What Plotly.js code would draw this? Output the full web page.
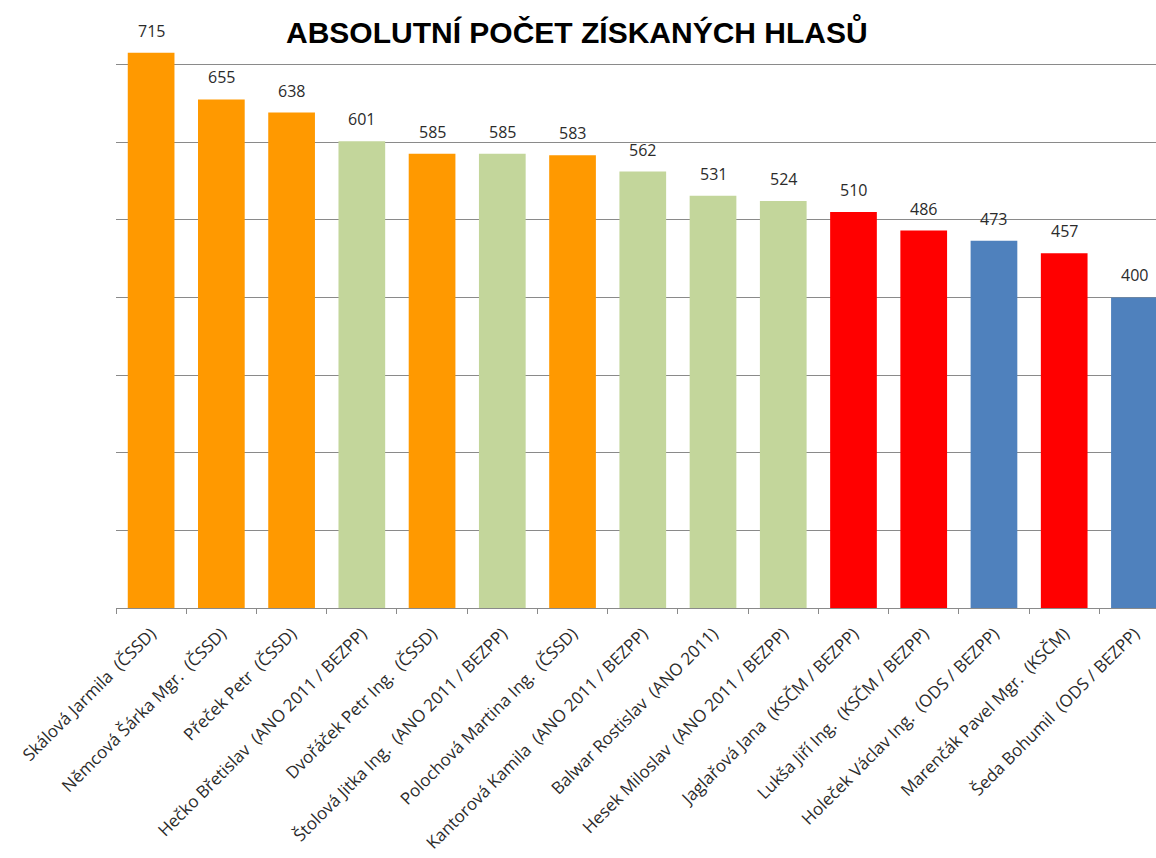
<!DOCTYPE html>
<html>
<head>
<meta charset="utf-8">
<script src="https://cdn.plot.ly/plotly-3.0.1.min.js"></script>
<style>
html,body{margin:0;padding:0;background:#fff;overflow:hidden;}
#chart{width:1156px;height:858px;}
</style>
</head>
<body>
<div id="chart"></div>
<script>
const categories = [
  "Skálová Jarmila \u00a0(ČSSD)",
  "Němcová Šárka Mgr. \u00a0(ČSSD)",
  "Přeček Petr \u00a0(ČSSD)",
  "Hečko Břetislav \u00a0(ANO 2011 / BEZPP)",
  "Dvořáček Petr Ing. \u00a0(ČSSD)",
  "Štolová Jitka Ing. \u00a0(ANO 2011 / BEZPP)",
  "Polochová Martina Ing. \u00a0(ČSSD)",
  "Kantorová Kamila \u00a0(ANO 2011 / BEZPP)",
  "Balwar Rostislav \u00a0(ANO 2011)",
  "Hesek Miloslav \u00a0(ANO 2011 / BEZPP)",
  "Jaglařová Jana \u00a0(KSČM / BEZPP)",
  "Lukša Jiří Ing. \u00a0(KSČM / BEZPP)",
  "Holeček Václav Ing. \u00a0(ODS / BEZPP)",
  "Marenčák Pavel Mgr. \u00a0(KSČM)",
  "Šeda Bohumil \u00a0(ODS / BEZPP)"
];
const votes = [715, 655, 638, 601, 585, 585, 583, 562, 531, 524, 510, 486, 473, 457, 400];
const parties = ["ČSSD","ČSSD","ČSSD","ANO","ČSSD","ANO","ČSSD","ANO","ANO","ANO","KSČM","KSČM","ODS","KSČM","ODS"];
const partyColors = {"ČSSD":"#FF9900","ANO":"#C3D69B","KSČM":"#FF0000","ODS":"#4F81BD"};
const titleText = "ABSOLUTNÍ POČET ZÍSKANÝCH HLASŮ";

const trace = {
  type: "bar",
  x: categories,
  y: votes,
  marker: {color: parties.map(p => partyColors[p])},
  hoverinfo: "x+y"
};

const annotations = categories.map((c, i) => ({
  x: c, y: votes[i], xref: "x", yref: "y",
  text: String(votes[i]), showarrow: false,
  yanchor: "bottom", yshift: 9,
  font: {family: "Open Sans, sans-serif", size: 16, color: "#2b2b2b"}
}));

const layout = {
  width: 1156, height: 858,
  margin: {l: 116, r: 0, t: 0, b: 250},
  paper_bgcolor: "#ffffff",
  plot_bgcolor: "#ffffff",
  bargap: 0.335,
  showlegend: false,
  title: {
    text: "<b>" + titleText + "</b>",
    xref: "container", yref: "container",
    x: 0.499, xanchor: "center",
    y: 1 - 32/858, yanchor: "middle",
    font: {family: "Liberation Sans, Arial, sans-serif", size: 30, color: "#000000"}
  },
  xaxis: {
    type: "category",
    range: [-0.5, 14.307],
    showline: true, linecolor: "#8a8a8a", linewidth: 1,
    ticks: "outside", tickson: "boundaries", ticklen: 5, tickcolor: "#8a8a8a",
    tickangle: -45,
    ticklabelstandoff: 8,
    tickfont: {family: "Open Sans, sans-serif", size: 17, color: "#2b2b2b"},
    showgrid: false, automargin: false, fixedrange: true
  },
  yaxis: {
    range: [0, 783],
    dtick: 100, tick0: 0,
    showgrid: true, gridcolor: "#8a8a8a", gridwidth: 1,
    zeroline: false, showline: false, showticklabels: false, ticks: "",
    automargin: false, fixedrange: true
  },
  annotations: annotations
};

Plotly.newPlot("chart", [trace], layout, {displayModeBar: false, staticPlot: true});
</script>
</body>
</html>
